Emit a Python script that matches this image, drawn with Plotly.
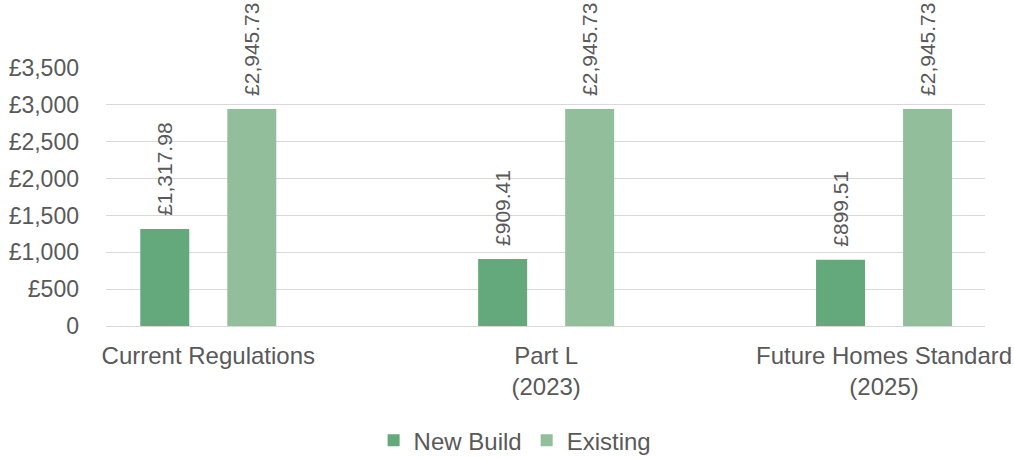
import plotly.graph_objects as go

# Annual energy cost per dwelling under each regulation stage
categories = ["Current Regulations", "Part L<br>(2023)", "Future Homes Standard<br>(2025)"]
new_build = [1317.98, 909.41, 899.51]
existing = [2945.73, 2945.73, 2945.73]

y_ticks = [0, 500, 1000, 1500, 2000, 2500, 3000, 3500]
y_tick_labels = ["0", "£500", "£1,000", "£1,500", "£2,000", "£2,500", "£3,000", "£3,500"]

TEXT = "#595959"
FONT = "Liberation Sans, Arial, Helvetica, sans-serif"
positions = list(range(len(categories)))
# leading spaces lift the rotated value labels off the bar tops
LABEL = "\u00a0\u2009£%{y:,.2f}"

fig = go.Figure()
fig.add_trace(go.Bar(
    x=positions, y=new_build, name="New Build",
    marker=dict(color="#64A97C", line=dict(width=0)),
    texttemplate=LABEL, textposition="outside", textangle=-90,
    constraintext="none",
    textfont=dict(size=21, color=TEXT, family=FONT), cliponaxis=False,
))
fig.add_trace(go.Bar(
    x=positions, y=existing, name="Existing",
    marker=dict(color="#92BE9B", line=dict(width=0)),
    texttemplate=LABEL, textposition="outside", textangle=-90,
    constraintext="none",
    textfont=dict(size=21, color=TEXT, family=FONT), cliponaxis=False,
))

fig.update_layout(
    width=1014, height=459,
    margin=dict(l=106, r=29, t=68, b=133),
    paper_bgcolor="white", plot_bgcolor="white",
    font=dict(family=FONT, color=TEXT, size=22),
    barmode="group", bargap=0.485, bargroupgap=0.437,
    showlegend=True,
    legend=dict(
        orientation="h", xref="container", x=0.508, xanchor="center",
        yref="container", y=0.04, yanchor="middle",
        font=dict(size=24, color=TEXT, family=FONT),
        itemwidth=30,
    ),
    xaxis=dict(
        range=[-0.3027, 2.2988], tickvals=positions, ticktext=categories,
        showgrid=False, zeroline=False, showline=False, ticks="",
        tickfont=dict(size=24, color=TEXT, family=FONT),
        ticklabelstandoff=13, automargin=False,
    ),
    yaxis=dict(
        range=[0, 3502], tickvals=y_ticks, ticktext=y_tick_labels,
        showgrid=True, gridcolor="#D9D9D9", gridwidth=1,
        zeroline=True, zerolinecolor="#D9D9D9", zerolinewidth=1,
        showline=False, ticks="",
        tickfont=dict(size=23, color=TEXT, family=FONT),
        ticklabelstandoff=26, automargin=False,
    ),
)

fig.write_html("out.html")
